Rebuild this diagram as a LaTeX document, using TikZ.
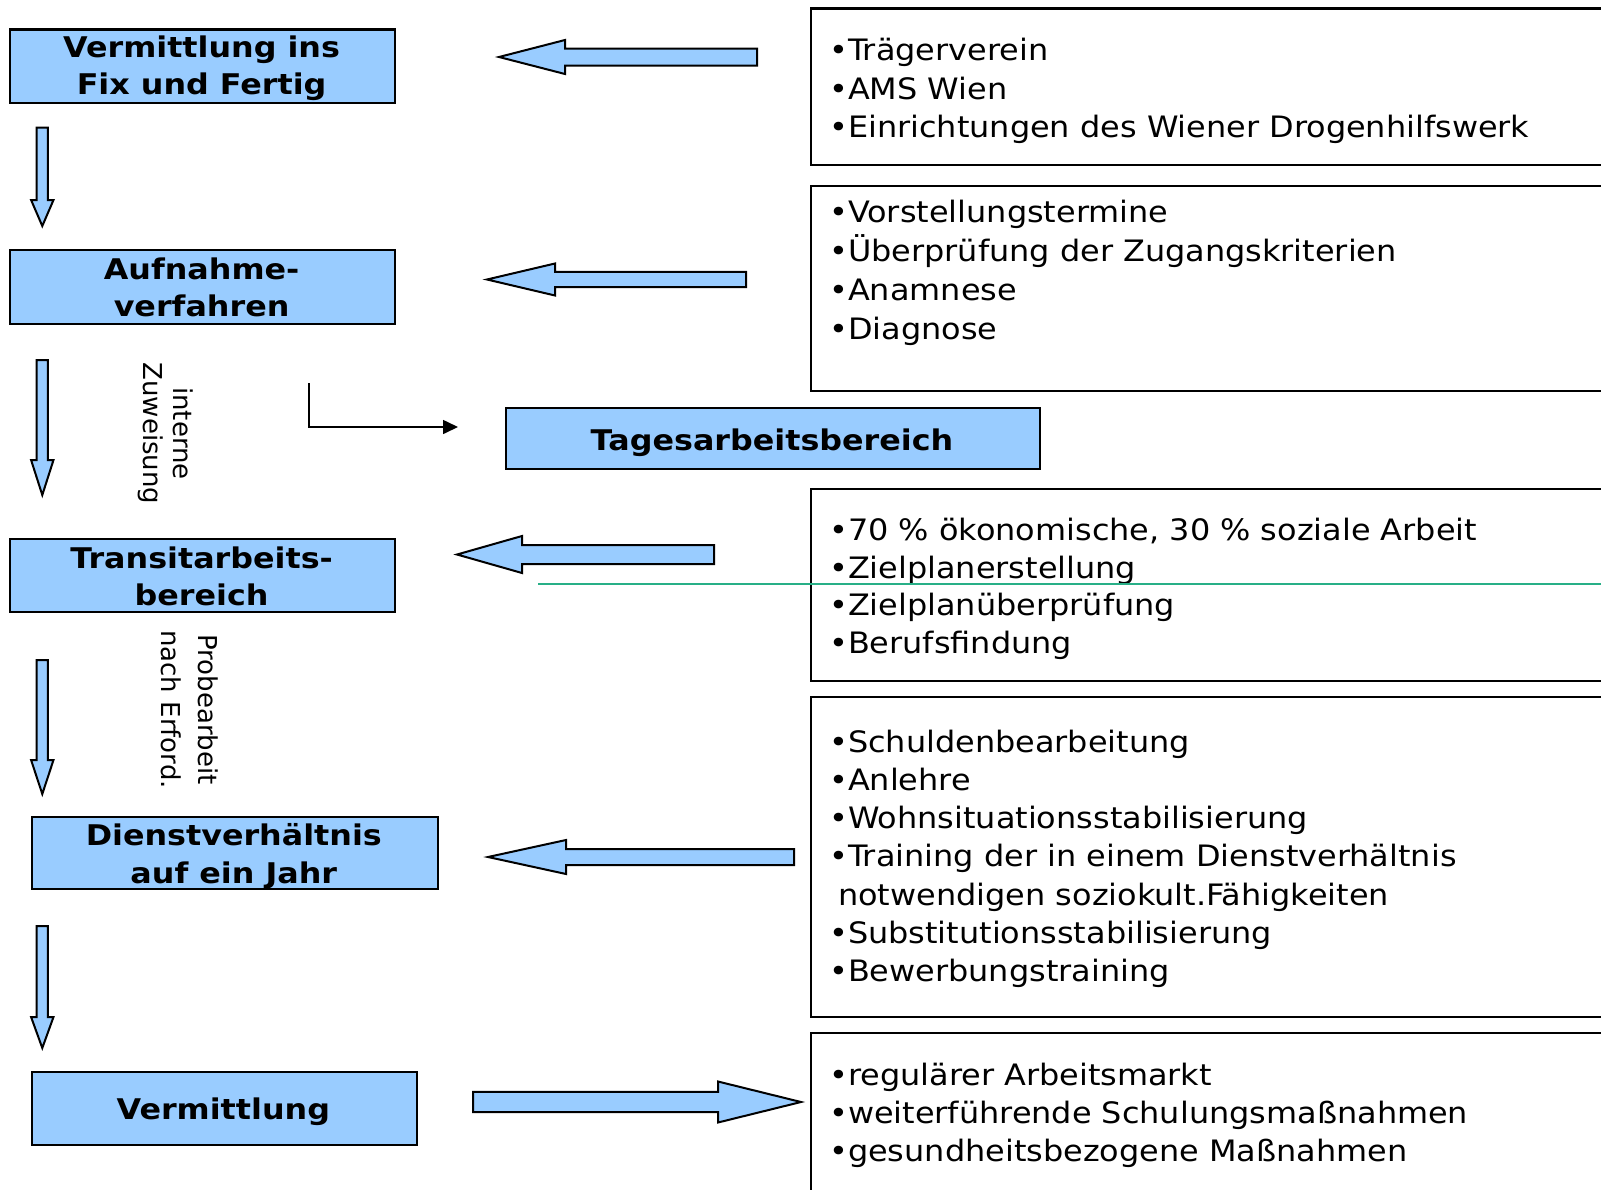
\documentclass[tikz,border=0pt]{standalone}
\usepackage{fontspec}
\setmainfont{DejaVu Sans}[FakeStretch=1.082]
\newfontfamily\titlefont{DejaVu Sans}[FakeStretch=1.115]
\newfontfamily\rotfont{DejaVu Sans}
\usetikzlibrary{arrows.meta}
\definecolor{boxblue}{RGB}{153,204,255}
\definecolor{tealline}{RGB}{40,175,135}
\newcommand\lblock[6]{% tipx, cy, basex, headhalf, shafthalf, endx
  \draw[blk] (#1,#2) -- (#3,{#2-#4}) -- (#3,{#2-#5}) -- (#6,{#2-#5})
    -- (#6,{#2+#5}) -- (#3,{#2+#5}) -- (#3,{#2+#4}) -- cycle;}
\newcommand\dblock[3]{% top, base, tip
  \draw[blk] (42.3,#3) -- (31.1,#2) -- (36.7,#2) -- (36.7,#1) -- (47.9,#1)
    -- (47.9,#2) -- (53.5,#2) -- cycle;}
\begin{document}
\begin{tikzpicture}[x=1pt,y=-1pt,
  bluebox/.style={draw=black, line width=2.2pt, fill=boxblue, anchor=north west, inner sep=0},
  listbox/.style={draw=black, line width=2.2pt, anchor=north west, inner sep=0},
  blk/.style={draw=black, line width=2pt, fill=boxblue, line join=miter},
  titletext/.style={font=\titlefont\bfseries\fontsize{28.5}{37.5}\selectfont, align=center, inner sep=0, anchor=base},
  listtext/.style={font=\fontsize{29.5}{38.4}\selectfont, align=left, inner sep=0, anchor=base west},
  rottext/.style={font=\rotfont\fontsize{26}{30}\selectfont, align=center, rotate=-90, inner sep=0}
]
\useasboundingbox (0,0) rectangle (1601,1189);
\fill[white] (0,0) rectangle (1601,1189);
\clip (0,0) rectangle (1601,1189);

% left blue boxes
\node[bluebox, minimum width=384.8pt, minimum height=73.2pt] (b1) at (9.2,28.3) {};
\node[bluebox, minimum width=384.8pt, minimum height=74pt] (b2) at (9.2,249) {};
\node[bluebox, minimum width=384.8pt, minimum height=73pt] (b3) at (9.2,538) {};
\node[bluebox, minimum width=406.4pt, minimum height=72pt] (b4) at (30.6,816) {};
\node[bluebox, minimum width=385.4pt, minimum height=73pt] (b5) at (30.6,1071) {};
\node[bluebox, minimum width=534pt, minimum height=61pt] (tg) at (505,407) {};

% (anchor base = baseline of the last line)
\node[titletext] (b1t) at (201.6,94.8) {Vermittlung ins\\Fix und Fertig};
\node[titletext] (b2t) at (201.6,316.8) {Aufnahme-\\verfahren};
\node[titletext] (b3t) at (201.6,605.8) {Transitarbeits-\\bereich};
\node[titletext] (b4t) at (233.8,883.3) {Dienstverhältnis\\auf ein Jahr};
\node[titletext] (b5t) at (223.3,1119) {Vermittlung};
\node[titletext] (tgt) at (772,450) {Tagesarbeitsbereich};

% right list boxes
\node[listbox, minimum width=820pt, minimum height=156.6pt] (r1) at (810,7.4) {};
\node[listbox, minimum width=820pt, minimum height=205.5pt] (r2) at (810,184.5) {};
\node[listbox, minimum width=820pt, minimum height=192pt] (r3) at (810,488) {};
\node[listbox, minimum width=820pt, minimum height=320.5pt] (r4) at (810,695.5) {};
\node[listbox, minimum width=820pt, minimum height=200pt] (r5) at (810,1031.7) {};

\node[listtext] (r1t) at (829,137.4) {•Trägerverein\\•AMS Wien\\•Einrichtungen des Wiener Drogenhilfswerk};
\node[listtext, font=\fontsize{29.5}{39}\selectfont] (r2t) at (829,339.6) {•Vorstellungstermine\\•Überprüfung der Zugangskriterien\\•Anamnese\\•Diagnose};
\node[listtext, font=\fontsize{29.5}{37.5}\selectfont] (r3t) at (829,653) {•70 \% ökonomische, 30 \% soziale Arbeit\\•Zielplanerstellung\\•Zielplanüberprüfung\\•Berufsfindung};
\node[listtext, font=\fontsize{29.5}{38.3}\selectfont] (r4t) at (829,981.8) {•Schuldenbearbeitung\\•Anlehre\\•Wohnsituationsstabilisierung\\•Training der in einem Dienstverhältnis\\\hspace*{9pt}notwendigen soziokult.Fähigkeiten\\•Substitutionsstabilisierung\\•Bewerbungstraining};
\node[listtext, font=\fontsize{29.5}{38.3}\selectfont] (r5t) at (829,1161.6) {•regulärer Arbeitsmarkt\\•weiterführende Schulungsmaßnahmen\\•gesundheitsbezogene Maßnahmen};

% thin teal line
\coordinate (g1) at (538,584);
\coordinate (g2) at (1601,584);
\draw[tealline, line width=1.2pt] (g1) -- (g2);

% block arrows
\lblock{499}{57}{565}{17}{8.5}{757}
\lblock{487}{279.5}{555}{16}{7.7}{746}
\lblock{457}{554.5}{522}{18.5}{9.5}{714}
\lblock{488}{857}{566}{17}{8}{794}
\lblock{801}{1102}{718}{20.5}{10.2}{473}

\dblock{127.7}{200}{226}
\dblock{360}{460}{495}
\dblock{660}{760}{794}
\dblock{926}{1017}{1048}

% rotated labels
\node[rottext] (rl1) at (165.5,433.5) {interne\\Zuweisung};
\node[rottext, font=\rotfont\fontsize{26}{37}\selectfont] (rl2) at (190,709.5) {Probearbeit\\nach Erford.};

% elbow connector
\coordinate (e1) at (309,383);
\coordinate (e2) at (458,427);
\draw[line width=1.6pt, -{Triangle[length=15pt,width=14pt]}] (e1) |- (e2);
\end{tikzpicture}
\end{document}
